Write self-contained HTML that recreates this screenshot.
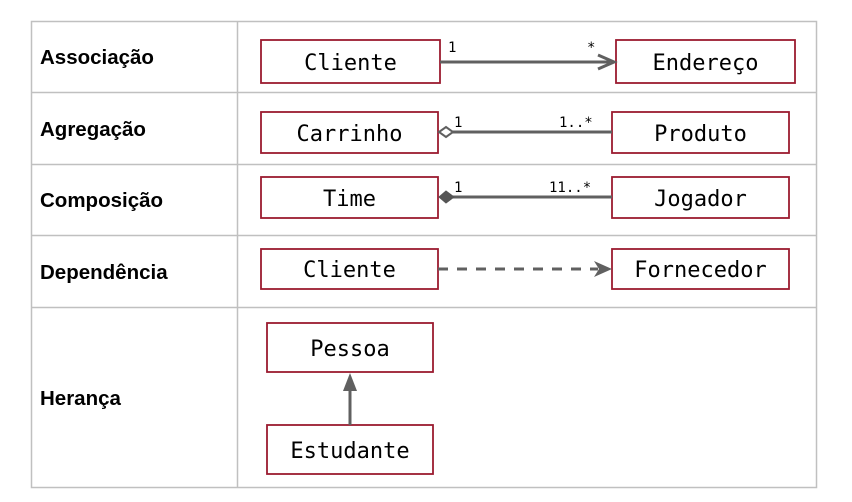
<!DOCTYPE html>
<html><head><meta charset="utf-8"><style>
html,body{margin:0;padding:0;background:#fff;}
svg{display:block}
.lbl{font-family:"Liberation Sans",Arial,sans-serif;font-weight:bold;font-size:20.5px;fill:#000}
.cls{font-family:"DejaVu Sans Mono","Liberation Mono",monospace;font-size:22px;fill:#000}
.m{font-family:"DejaVu Sans Mono","Liberation Mono",monospace;font-size:14px;fill:#000}
.box{fill:#fff;stroke:#9b1b30;stroke-width:1.8}
.ln{stroke:#606060;stroke-width:3;fill:none}
</style></head><body>
<svg width="852" height="502" viewBox="0 0 852 502">
<g stroke="#c0c0c0" stroke-width="1.5" fill="none">
<rect x="31.5" y="21.5" width="785" height="466"/>
<line x1="237.5" y1="21" x2="237.5" y2="487"/>
<line x1="31" y1="92.5" x2="816" y2="92.5"/>
<line x1="31" y1="164.5" x2="816" y2="164.5"/>
<line x1="31" y1="235.5" x2="816" y2="235.5"/>
<line x1="31" y1="307.5" x2="816" y2="307.5"/>
</g>
<text class="lbl" x="40" y="64">Associação</text>
<text class="lbl" x="40" y="136">Agregação</text>
<text class="lbl" x="40" y="207">Composição</text>
<text class="lbl" x="40" y="279">Dependência</text>
<text class="lbl" x="40" y="405">Herança</text>

<!-- row1 -->
<rect class="box" x="261" y="40" width="179" height="43"/>
<rect class="box" x="616" y="40" width="179" height="43"/>
<text class="cls" x="350.5" y="70" text-anchor="middle">Cliente</text>
<text class="cls" x="705.5" y="70" text-anchor="middle">Endereço</text>
<line class="ln" x1="440" y1="62" x2="610" y2="62"/>
<path d="M598 55 L614 62 L598 69" class="ln" stroke-width="3"/>
<text class="m" x="448" y="52">1</text>
<text class="m" x="587" y="52">*</text>

<!-- row2 -->
<rect class="box" x="261" y="112" width="177" height="41"/>
<rect class="box" x="612" y="112" width="177" height="41"/>
<text class="cls" x="349.5" y="141" text-anchor="middle">Carrinho</text>
<text class="cls" x="700.5" y="141" text-anchor="middle">Produto</text>
<line class="ln" x1="452" y1="132" x2="612" y2="132"/>
<path d="M439 132 L446 127 L453 132 L446 137 Z" fill="#fff" stroke="#606060" stroke-width="2"/>
<text class="m" x="454" y="127">1</text>
<text class="m" x="559" y="127">1..*</text>

<!-- row3 -->
<rect class="box" x="261" y="177" width="177" height="41"/>
<rect class="box" x="612" y="177" width="177" height="41"/>
<text class="cls" x="349.5" y="206" text-anchor="middle">Time</text>
<text class="cls" x="700.5" y="206" text-anchor="middle">Jogador</text>
<line class="ln" x1="452" y1="197" x2="612" y2="197"/>
<path d="M439 197 L446 191 L454 197 L446 203 Z" fill="#555" stroke="#555" stroke-width="1"/>
<text class="m" x="454" y="192">1</text>
<text class="m" x="549" y="192">11..*</text>

<!-- row4 -->
<rect class="box" x="261" y="249" width="177" height="40"/>
<rect class="box" x="612" y="249" width="177" height="40"/>
<text class="cls" x="349.5" y="277" text-anchor="middle">Cliente</text>
<text class="cls" x="700.5" y="277" text-anchor="middle">Fornecedor</text>
<line class="ln" x1="438" y1="269" x2="598" y2="269" stroke-dasharray="10,9"/>
<path d="M594 261 L612 269 L594 277 L599 269 Z" fill="#606060"/>

<!-- row5 -->
<rect class="box" x="267" y="323" width="166" height="49"/>
<rect class="box" x="267" y="425" width="166" height="49"/>
<text class="cls" x="350" y="356" text-anchor="middle">Pessoa</text>
<text class="cls" x="350" y="458" text-anchor="middle">Estudante</text>
<line class="ln" x1="350" y1="425" x2="350" y2="385"/>
<path d="M343 391 L350 373 L357 391 Z" fill="#606060"/>
</svg>
</body></html>
